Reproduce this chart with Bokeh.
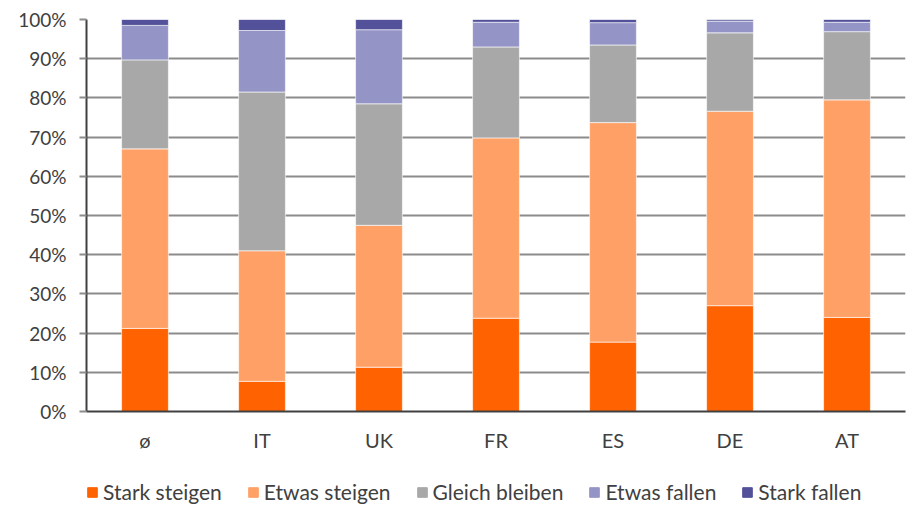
from bokeh.plotting import figure
from bokeh.models import ColumnDataSource, Legend, LegendItem, PrintfTickFormatter, FixedTicker, Range1d
from bokeh.layouts import column
from bokeh.embed import file_html
from bokeh.resources import INLINE

categories = ["ø", "IT", "UK", "FR", "ES", "DE", "AT"]
stark_steigen = [21.2, 7.7, 11.3, 23.8, 17.7, 27.0, 24.0]
etwas_steigen = [45.8, 33.3, 36.2, 46.0, 56.0, 49.6, 55.5]
gleich_bleiben = [22.7, 40.5, 31.0, 23.2, 19.8, 20.0, 17.4]
etwas_fallen = [8.8, 15.7, 18.9, 6.3, 5.7, 3.0, 2.4]
stark_fallen = [1.5, 2.8, 2.6, 0.7, 0.8, 0.4, 0.7]
series_names = ["Stark steigen", "Etwas steigen", "Gleich bleiben", "Etwas fallen", "Stark fallen"]
colors = ["#FF6200", "#FFA166", "#A8A8A8", "#9494C6", "#525199"]
y_ticks = [0, 10, 20, 30, 40, 50, 60, 70, 80, 90, 100]

FONT = "Lato"
TXT = "#404040"

data = {"cat": categories, "s0": stark_steigen, "s1": etwas_steigen, "s2": gleich_bleiben,
        "s3": etwas_fallen, "s4": stark_fallen}
source = ColumnDataSource(data)

p = figure(x_range=categories, y_range=Range1d(0, 100), width=912, height=455,
           output_backend="svg", toolbar_location=None,
           min_border_left=86, min_border_right=7, min_border_top=19, min_border_bottom=44)
p.outline_line_color = None

renderers = p.vbar_stack(["s0", "s1", "s2", "s3", "s4"], x="cat", width=0.4, source=source,
                         color=colors, line_color="white", line_alpha=0.6, line_width=1)

p.yaxis.ticker = FixedTicker(ticks=y_ticks)
p.yaxis.formatter = PrintfTickFormatter(format="%d%%")
p.yaxis.axis_line_color = "#404040"
p.yaxis.axis_line_width = 2
p.yaxis.major_tick_line_color = "#8c8c8c"
p.yaxis.major_tick_line_width = 2
p.yaxis.major_tick_out = 7
p.yaxis.major_tick_in = 0
p.yaxis.minor_tick_line_color = None
p.yaxis.major_label_text_font = FONT
p.yaxis.major_label_text_font_size = "19px"
p.yaxis.major_label_text_color = TXT
p.yaxis.major_label_standoff = 13

p.xaxis.axis_line_color = "#404040"
p.xaxis.axis_line_width = 2
p.xaxis.major_tick_line_color = None
p.xaxis.minor_tick_line_color = None
p.xaxis.major_label_text_font = FONT
p.xaxis.major_label_text_font_size = "20px"
p.xaxis.major_label_text_color = TXT
p.xaxis.major_label_standoff = 10

p.xgrid.grid_line_color = None
p.ygrid.grid_line_color = "#8c8c8c"
p.ygrid.grid_line_width = 2

# legend strip below the chart (its frame is aligned with the chart's frame)
lp = figure(width=912, height=50, x_range=Range1d(0, 1), y_range=Range1d(0, 1),
            x_axis_location=None, y_axis_location=None,
            output_backend="svg", toolbar_location=None,
            min_border_left=86, min_border_right=7, min_border_top=0, min_border_bottom=0)
lp.grid.visible = False
lp.outline_line_color = None
dummies = [lp.vbar(x=[0.5], top=[0], bottom=[0], width=0.0, color=c) for c in colors]
items = [LegendItem(label=n, renderers=[r]) for n, r in zip(series_names, dummies)]
legend = Legend(items=items, orientation="horizontal", location=(0, 1),
                label_text_font=FONT, label_text_font_size="21px", label_text_color=TXT,
                glyph_width=12, glyph_height=12, spacing=25, label_standoff=5,
                border_line_color=None, background_fill_alpha=0, margin=0, padding=0)
lp.add_layout(legend, "center")

open("out.html", "w").write(file_html(column(p, lp), INLINE))
